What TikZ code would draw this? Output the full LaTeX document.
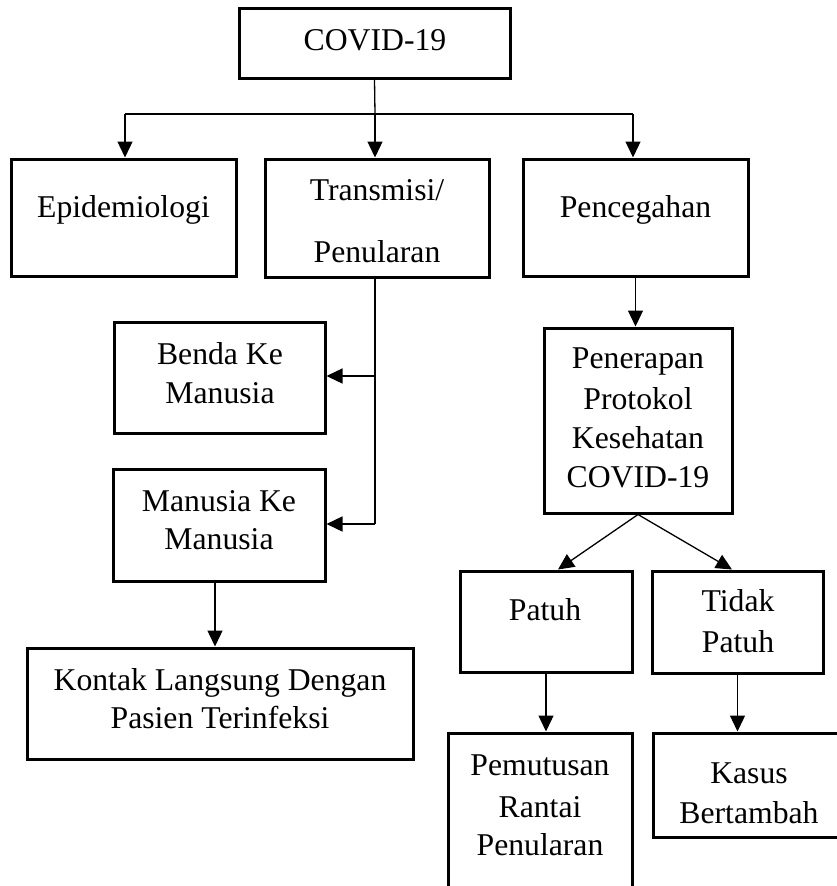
\documentclass[tikz,border=0pt]{standalone}
\usepackage{fontspec}
\setmainfont{Liberation Serif}
\usetikzlibrary{arrows.meta}
\begin{document}
\begin{tikzpicture}[x=1pt,y=-1pt,
  box/.style={draw,line width=3pt,rectangle,inner sep=0pt},
  txt/.style={anchor=base,inner sep=0pt,font=\fontsize{31.7}{40}\selectfont},
  line/.style={line width=1.3pt},
  arr/.style={line width=1.3pt,-{Triangle[length=16pt,width=15pt]}}]
\useasboundingbox (0,0) rectangle (837,886);
\clip (0,0) rectangle (837,886);
\fill[white] (0,0) rectangle (837,886);
% boxes
\node[box,minimum width=271pt,minimum height=70pt] (covid) at (374.5,43) {};
\node[box,minimum width=225pt,minimum height=117pt] (epi) at (123.5,217.5) {};
\node[box,minimum width=224pt,minimum height=118pt] (trans) at (377,218) {};
\node[box,minimum width=225pt,minimum height=117pt] (pen) at (635.5,217.5) {};
\node[box,minimum width=211pt,minimum height=111pt] (benda) at (219.5,377.5) {};
\node[box,minimum width=212pt,minimum height=112pt] (manusia) at (219,525) {};
\node[box,minimum width=386pt,minimum height=111pt] (kontak) at (220,703.5) {};
\node[box,minimum width=188pt,minimum height=185pt] (prot) at (638,420.5) {};
\node[box,minimum width=172pt,minimum height=101pt] (patuh) at (546,621.5) {};
\node[box,minimum width=171pt,minimum height=102pt] (tidak) at (737.5,622) {};
\node[box,minimum width=184pt,minimum height=200pt] (putus) at (540,833) {};
\node[box,minimum width=192pt,minimum height=104pt] (kasus) at (749,785) {};
% texts
\node[txt] (tcovid) at (375,50) {COVID-19};
\node[txt] (tepi) at (123.5,217) {Epidemiologi};
\node[txt] (ttrans1) at (377,200) {Transmisi/};
\node[txt] (ttrans2) at (377,262) {Penularan};
\node[txt] (tpen) at (635.5,217) {Pencegahan};
\node[txt] (tbenda1) at (220,364) {Benda Ke};
\node[txt] (tbenda2) at (220,403) {Manusia};
\node[txt] (tman1) at (219,511) {Manusia Ke};
\node[txt] (tman2) at (219,549) {Manusia};
\node[txt] (tkon1) at (220,690) {Kontak Langsung Dengan};
\node[txt] (tkon2) at (220,728) {Pasien Terinfeksi};
\node[txt] (tprot1) at (638,368) {Penerapan};
\node[txt] (tprot2) at (638,409) {Protokol};
\node[txt] (tprot3) at (638,448) {Kesehatan};
\node[txt] (tprot4) at (638,487) {COVID-19};
\node[txt] (tpatuh) at (545,620) {Patuh};
\node[txt] (ttidak1) at (738,611) {Tidak};
\node[txt] (ttidak2) at (738,652) {Patuh};
\node[txt] (tputus1) at (540,775) {Pemutusan};
\node[txt] (tputus2) at (540,817) {Rantai};
\node[txt] (tputus3) at (540,855) {Penularan};
\node[txt] (tkasus1) at (749,783) {Kasus};
\node[txt] (tkasus2) at (749,823) {Bertambah};
% connectors
\coordinate (j1) at (375,114);
\coordinate (jl) at (125,114);
\coordinate (jr) at (633,114);
\draw[line] (covid.south) -- (j1);
\draw[line] (jl) -- (jr);
\draw[arr] (jl) -- (jl |- epi.north);
\draw[arr] (j1) -- (j1 |- trans.north);
\draw[arr] (jr) -- (jr |- pen.north);
\coordinate (ts) at (375,277);
\coordinate (tm1) at (375,376);
\coordinate (tb) at (375,524);
\draw[line] (ts) -- (tb);
\draw[arr] (tm1) -- (tm1 -| benda.east);
\draw[arr] (tb) -- (tb -| manusia.east);
\draw[arr] ([xshift=-4pt]manusia.south) -- ([xshift=-4pt]manusia.south |- kontak.north);
\draw[arr] (pen.south) -- (pen.south |- prot.north);
\draw[arr] (prot.south) -- ([xshift=12pt]patuh.north);
\draw[arr] (prot.south) -- ([xshift=-5.5pt]tidak.north);
\draw[arr] (patuh.south) -- (patuh.south |- putus.north);
\draw[arr] (tidak.south) -- (tidak.south |- kasus.north);
\end{tikzpicture}
\end{document}
